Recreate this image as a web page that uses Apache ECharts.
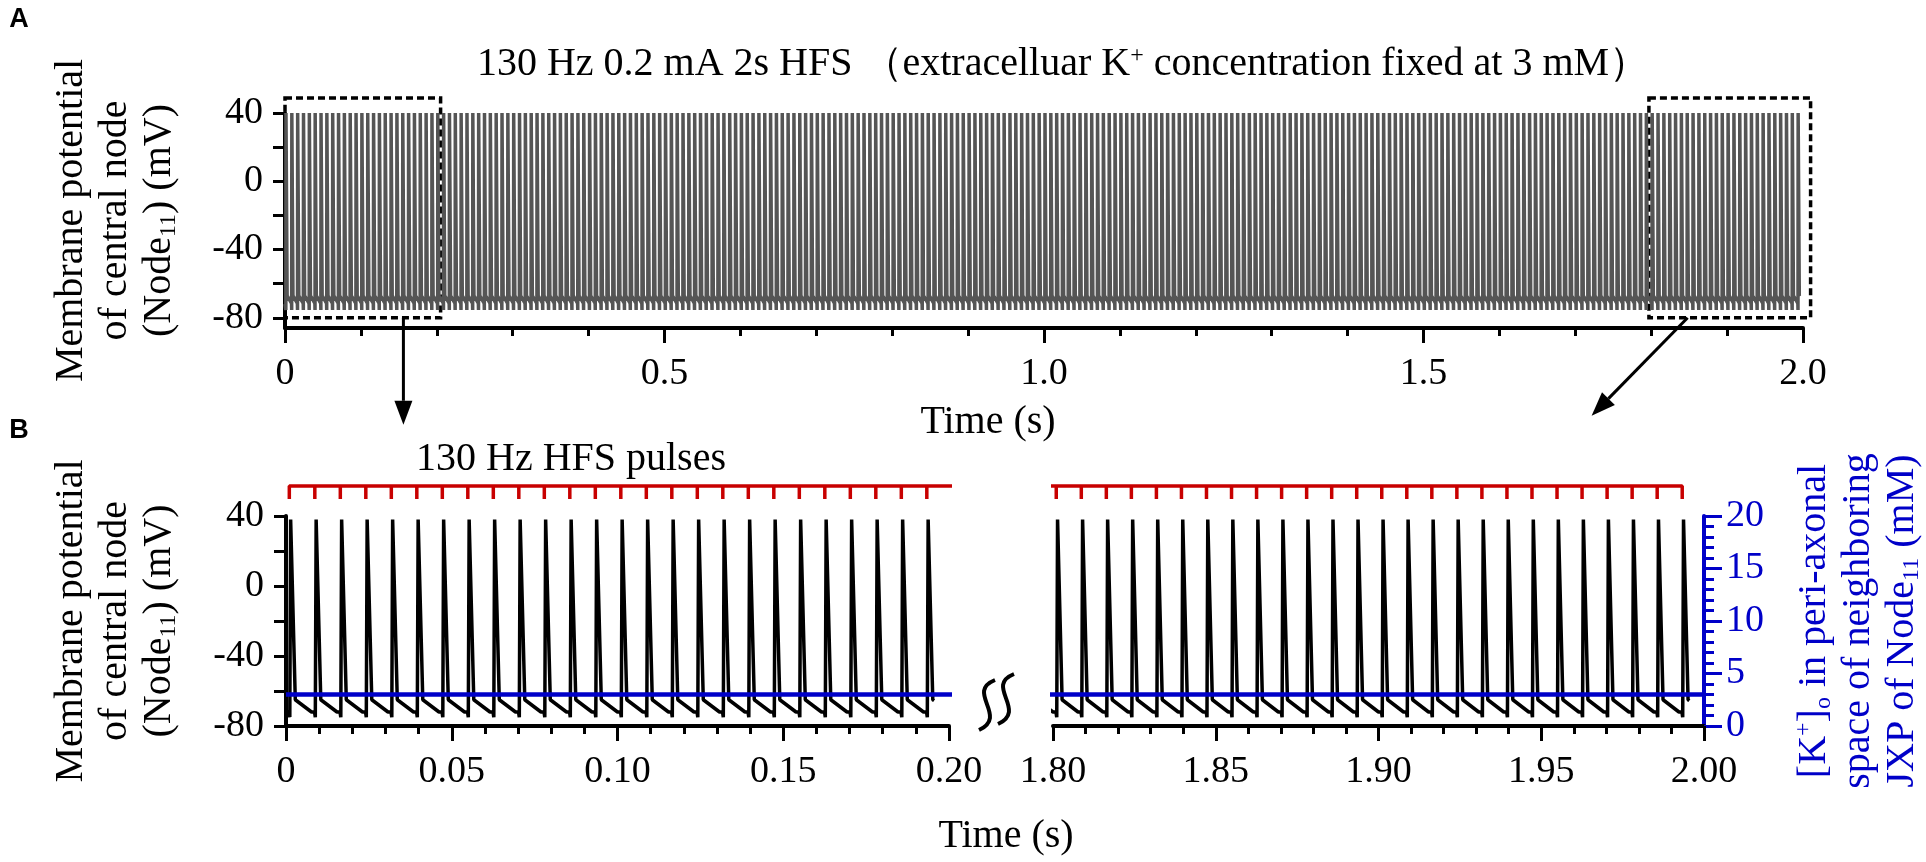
<!DOCTYPE html>
<html lang="en">
<head>
<meta charset="UTF-8">
<title>130 Hz HFS - membrane potential of Node11</title>
<script src="https://cdn.jsdelivr.net/npm/echarts@6.0.0/dist/echarts.min.js"></script>
<style>
    html, body { margin: 0; padding: 0; background: #fff; }
    #main { width: 1926px; height: 862px; }
</style>
</head>
<body>
<div id="main"></div>
<script type="text/javascript">
    // stimulation: 130 Hz pulses, first one 1 ms after t = 0
    var pulseHz = 130;
    var pulseOffset = 0.001;

    // one period of membrane potential after a pulse: [ms after pulse, mV]
    var spikeShapeA = [[0, -72], [0.1, -75.5], [0.3, 40], [0.9, 39.5], [1.8, -67], [2.4, -67.5], [7.6, -71.5]];
    var spikeShapeB = [[0, -72], [0.15, -75], [0.4, 38], [0.6, 37], [1.8, -65], [2.2, -65.5], [6.7, -72], [7.6, -72]];

    // [K+]o in peri-axonal space, fixed (mM)
    var kFixed = 3;

    // windows (s)
    var spanA = [0, 2.0];
    var spanLeft = [0, 0.2];
    var spanRight = [1.8, 2.0];

    // tick labels
    var xTicksA = [0, 0.5, 1.0, 1.5, 2.0];
    var xLabelsA = ['0', '0.5', '1.0', '1.5', '2.0'];
    var xTicksLeft = [0, 0.05, 0.10, 0.15, 0.20];
    var xLabelsLeft = ['0', '0.05', '0.10', '0.15', '0.20'];
    var xTicksRight = [1.80, 1.85, 1.90, 1.95, 2.00];
    var xLabelsRight = ['1.80', '1.85', '1.90', '1.95', '2.00'];
    var yTicksA = [-80, -60, -40, -20, 0, 20, 40];
    var yLabelsA = [-80, -40, 0, 40];

    // annotations on panel A: zoomed windows (s) and how far the arrows drop (px)
    var zoomBoxes = [[0, 0.205], [1.797, 2.01]];
    var boxV = [-80, 48.8];
    var arrowFrom = [0.156, 1.848];
    var arrowDrop = [[0, 107], [-96, 98]];

    function pulsesIn(t0, t1) {
        var out = [];
        for (var k = 0; ; k++) {
            var p = pulseOffset + k / pulseHz;
            if (p > t1 + 1e-9) break;
            if (p >= t0 - 1e-9) out.push(p);
        }
        return out;
    }
    function trace(shape, pulses, tStart, tEnd, lead) {
        var pts = [];
        if (lead != null) pts.push([tStart, lead]);
        pulses.forEach(function (p) {
            shape.forEach(function (s) {
                var t = p + s[0] / 1000;
                if (t >= tStart && t <= tEnd) pts.push([t, s[1]]);
            });
        });
        return pts;
    }
    function bracket(pulses, tFrom, tTo) {
        var pts = [[tFrom, 1]];
        pulses.forEach(function (p) { pts.push([p, 1], [p, 0], [p, 1]); });
        pts.push([tTo, 1]);
        return pts;
    }
    function lookup(ticks, labels) {
        return function (v) {
            for (var i = 0; i < ticks.length; i++) if (Math.abs(ticks[i] - v) < 1e-6) return labels[i];
            return '';
        };
    }

    var pulsesA = pulsesIn(spanA[0], spanA[1]);
    var pulsesLeft = pulsesIn(spanLeft[0], spanLeft[1]);
    var pulsesRight = pulsesIn(spanRight[0], spanRight[1]);
    var prevRight = pulsesIn(spanRight[0] - 0.008, spanRight[1]);

    var traceA = trace(spikeShapeA, pulsesA, 0, 2.0, -72);
    var traceLeft = trace(spikeShapeB, pulsesLeft, 0, 0.197, -72);
    var traceRight = trace(spikeShapeB, prevRight, 1.7955, 1.9975, null);

    var serif = '"Liberation Serif", "Times New Roman", serif';
    var blue = '#0000c8';
    var red = '#c80000';
    var rich = {
        sub: { fontFamily: serif, fontSize: 24, lineHeight: 22, verticalAlign: 'bottom' },
        sup: { fontFamily: serif, fontSize: 24, lineHeight: 22, verticalAlign: 'top' }
    };

    function xAxisFor(grid, min, max, interval, ticks, labels) {
        return {
            gridIndex: grid, type: 'value', min: min, max: max, interval: interval,
            axisLine: { show: true, onZero: false, lineStyle: { color: '#000', width: 4 } },
            axisTick: { show: true, length: 15, lineStyle: { width: 3 } },
            minorTick: { show: true, splitNumber: 5, length: 8, lineStyle: { color: '#000', width: 3 } },
            splitLine: { show: false },
            axisLabel: { margin: 27, fontFamily: serif, fontSize: 38, color: '#000', formatter: lookup(ticks, labels) }
        };
    }
    function hiddenAxis(grid, min, max) {
        return { gridIndex: grid, type: 'value', min: min, max: max, show: false };
    }
    var vName = 'Membrane potential\nof central node\n(Node{sub|11}) (mV)';
    var nameStyle = { fontFamily: serif, fontSize: 40, lineHeight: 44, color: '#000', align: 'center', rich: rich };

    var chart = echarts.init(document.getElementById('main'));
    chart.setOption({
        animation: false,
        textStyle: { fontFamily: serif },
        grid: [
            { left: 285, top: 113, width: 1518, height: 215, outerBoundsMode: 'none' },
            { left: 286, top: 516, width: 663, height: 210, outerBoundsMode: 'none' },
            { left: 1053, top: 516, width: 651, height: 210, outerBoundsMode: 'none' },
            { left: 286, top: 486, width: 663, height: 13, outerBoundsMode: 'none' },
            { left: 1053, top: 486, width: 651, height: 13, outerBoundsMode: 'none' }
        ],
        xAxis: [
            xAxisFor(0, spanA[0], spanA[1], 0.5, xTicksA, xLabelsA),
            xAxisFor(1, spanLeft[0], spanLeft[1], 0.05, xTicksLeft, xLabelsLeft),
            xAxisFor(2, spanRight[0], spanRight[1], 0.05, xTicksRight, xLabelsRight),
            hiddenAxis(3, spanLeft[0], spanLeft[1]),
            hiddenAxis(4, spanRight[0], spanRight[1])
        ],
        yAxis: [
            {
                gridIndex: 0, type: 'value', min: -86, max: 40,
                axisLine: { show: true, onZero: false, lineStyle: { color: '#000', width: 4 } },
                axisTick: { show: true, length: 12, lineStyle: { width: 3 }, customValues: yTicksA },
                axisLabel: { margin: 22, fontFamily: serif, fontSize: 38, color: '#000', customValues: yLabelsA },
                splitLine: { show: false },
                name: vName, nameLocation: 'middle', nameRotate: 90, nameGap: 104, nameTextStyle: nameStyle
            },
            {
                gridIndex: 1, type: 'value', min: -80, max: 40, interval: 40,
                axisLine: { show: true, onZero: false, lineStyle: { color: '#000', width: 4 } },
                axisTick: { show: true, length: 12, lineStyle: { width: 3 } },
                minorTick: { show: true, splitNumber: 2, length: 12, lineStyle: { color: '#000', width: 3 } },
                axisLabel: { margin: 22, fontFamily: serif, fontSize: 38, color: '#000' },
                splitLine: { show: false },
                name: vName, nameLocation: 'middle', nameRotate: 90, nameGap: 105, nameTextStyle: nameStyle
            },
            hiddenAxis(1, 0, 20),
            hiddenAxis(2, -80, 40),
            {
                gridIndex: 2, type: 'value', position: 'right', min: 0, max: 20, interval: 5,
                axisLine: { show: true, onZero: false, lineStyle: { color: blue, width: 4 } },
                axisTick: { show: true, length: 18, lineStyle: { width: 3 } },
                minorTick: { show: true, splitNumber: 5, length: 10, lineStyle: { color: blue, width: 3 } },
                axisLabel: { margin: 22, fontFamily: serif, fontSize: 38, color: blue },
                splitLine: { show: false },
                name: '[K{sup|+}]{sub|o} in peri-axonal\nspace of neighboring\nJXP of Node{sub|11} (mM)',
                nameLocation: 'middle', nameRotate: 90, nameGap: 88,
                nameTextStyle: { fontFamily: serif, fontSize: 40, lineHeight: 44, color: blue, align: 'center', rich: rich }
            },
            hiddenAxis(3, 0, 1),
            hiddenAxis(4, 0, 1)
        ],
        series: [
            { type: 'line', xAxisIndex: 0, yAxisIndex: 0, data: traceA, symbol: 'none', silent: true,
              lineStyle: { color: '#555555', width: 3.5 } },
            { type: 'line', xAxisIndex: 1, yAxisIndex: 1, data: traceLeft, symbol: 'none', silent: true,
              lineStyle: { color: '#000', width: 3.5 } },
            { type: 'line', xAxisIndex: 1, yAxisIndex: 2, data: [[0, kFixed], [0.201, kFixed]], symbol: 'none', silent: true, clip: false,
              lineStyle: { color: blue, width: 4.5 } },
            { type: 'line', xAxisIndex: 2, yAxisIndex: 3, data: traceRight, symbol: 'none', silent: true, clip: false,
              lineStyle: { color: '#000', width: 3.5 } },
            { type: 'line', xAxisIndex: 2, yAxisIndex: 4, data: [[1.797, kFixed], [2.0, kFixed]], symbol: 'none', silent: true, clip: false,
              lineStyle: { color: blue, width: 4.5 } },
            { type: 'line', xAxisIndex: 3, yAxisIndex: 5, data: bracket(pulsesLeft, pulseOffset, 0.2012), symbol: 'none', silent: true, clip: false,
              lineStyle: { color: red, width: 3.5 } },
            { type: 'line', xAxisIndex: 4, yAxisIndex: 6, data: bracket(pulsesRight, 1.7965, pulsesRight[pulsesRight.length - 1]), symbol: 'none', silent: true, clip: false,
              lineStyle: { color: red, width: 3.5 } }
        ]
    });

    // annotations: texts, zoom boxes, arrows, axis break
    function label(x, y, text, size, extra) {
        var st = { text: text, fontFamily: serif, fontSize: size, fill: '#000', align: 'center', verticalAlign: 'middle', rich: rich };
        for (var k in extra) st[k] = extra[k];
        return { type: 'text', x: x, y: y, silent: true, style: st };
    }
    function arrow(x1, y1, x2, y2) {
        var a = Math.atan2(y2 - y1, x2 - x1), L = 24, W = 9;
        var bx = x2 - L * Math.cos(a), by = y2 - L * Math.sin(a);
        return [
            { type: 'line', silent: true, shape: { x1: x1, y1: y1, x2: bx, y2: by }, style: { stroke: '#000', lineWidth: 3 } },
            { type: 'polygon', silent: true, shape: { points: [[x2, y2],
                [bx + W * Math.sin(a), by - W * Math.cos(a)], [bx - W * Math.sin(a), by + W * Math.cos(a)]] },
              style: { fill: '#000' } }
        ];
    }
    function sCurve(cx, y1, y2) {
        return { type: 'bezierCurve', silent: true,
            shape: { x1: cx + 8, y1: y1, cpx1: cx - 22, cpy1: y1 + 12, cpx2: cx + 22, cpy2: y2 - 14, x2: cx - 8, y2: y2 },
            style: { stroke: '#000', lineWidth: 4, fill: 'none' } };
    }

    var gfx = [
        { type: 'text', x: 19, y: 20, silent: true, style: { text: 'A', fontFamily: 'Liberation Sans', fontWeight: 'bold', fontSize: 27, fill: '#000', align: 'center', verticalAlign: 'middle' } },
        { type: 'text', x: 19, y: 431, silent: true, style: { text: 'B', fontFamily: 'Liberation Sans', fontWeight: 'bold', fontSize: 27, fill: '#000', align: 'center', verticalAlign: 'middle' } },
        label(1063, 64, '130 Hz 0.2 mA 2s HFS （extracelluar K{sup|+} concentration fixed at 3 mM）', 40),
        label(571, 459, '130 Hz HFS pulses', 40),
        label(988, 422, 'Time (s)', 40),
        label(1006, 836, 'Time (s)', 40),
        sCurve(987, 680, 730),
        sCurve(1006, 674, 724)
    ];
    var finder = { xAxisIndex: 0, yAxisIndex: 0 };
    zoomBoxes.forEach(function (b, i) {
        var p1 = chart.convertToPixel(finder, [b[0], boxV[1]]);
        var p2 = chart.convertToPixel(finder, [b[1], boxV[0]]);
        gfx.push({ type: 'rect', silent: true, shape: { x: p1[0], y: p1[1], width: p2[0] - p1[0], height: p2[1] - p1[1] },
            style: { fill: 'none', stroke: '#000', lineWidth: 3.5, lineDash: [7, 4] } });
        var a0 = chart.convertToPixel(finder, [arrowFrom[i], boxV[0]]);
        gfx = gfx.concat(arrow(a0[0], a0[1], a0[0] + arrowDrop[i][0], a0[1] + arrowDrop[i][1]));
    });
    chart.setOption({ graphic: gfx });
</script>
</body>
</html>
